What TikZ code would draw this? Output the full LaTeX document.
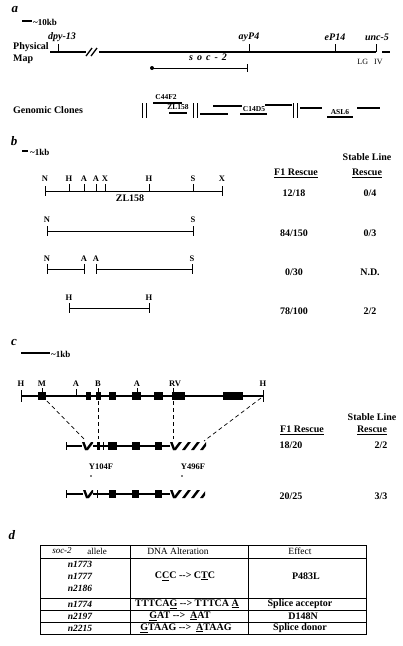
\documentclass[tikz,border=0pt]{standalone}
\usepackage{fontspec}
\setmainfont{Liberation Serif}
\usepackage{tikz}

\tikzset{
  lbl/.style={inner sep=0pt, font=\bfseries\fontsize{10}{11}\selectfont},
  sitelbl/.style={inner sep=0pt, font=\bfseries\fontsize{8.5}{10}\selectfont},
  clonelbl/.style={inner sep=0pt, font=\bfseries\fontsize{7.5}{8}\selectfont},
  genelbl/.style={inner sep=0pt, font=\bfseries\itshape\fontsize{10}{11}\selectfont},
  panel/.style={inner sep=0pt, font=\bfseries\itshape\fontsize{13}{14}\selectfont},
  mapline/.style={line width=1.3pt},
  tickline/.style={line width=1pt},
  exon/.style={fill=black},
  guide/.style={line width=0.7pt, dash pattern=on 4pt off 3pt},
  tabline/.style={line width=1pt},
}

\begin{document}
\begin{tikzpicture}[x=1pt, y=-1pt]
\useasboundingbox (0,0) rectangle (403,646);

% a
\node[panel] (pa) at (15,10) {a};
\draw[mapline] (22,21) -- (32,21);
\node[sitelbl, font=\bfseries\fontsize{9}{10}\selectfont, anchor=west] (bara) at (33,22) {\textasciitilde10kb};
\node[lbl, anchor=west] (phys) at (13,47) {Physical};
\node[lbl, anchor=west] (pmap) at (13,59) {Map};
\draw[mapline] (50,52) -- (86,52) (99,52) -- (376,52) (382,52) -- (390,52);
\draw[mapline] (86,56) -- (92,48) (91,56) -- (97,48);
\foreach \x/\lx/\g [count=\i] in {58/62/dpy-13, 249/249/ayP4, 335/335/eP14, 376/377/unc-5} {
  \draw[tickline] (\x,52) -- (\x,44);
  \node[genelbl] (g\i) at (\lx,37) {\g};
}
\node[inner sep=0pt, font=\fontsize{8}{9}\selectfont] (lg) at (370,62) {LG\hspace{6pt}IV};
\fill (152,68) circle (2);
\draw[tickline] (152,68) -- (247,68);
\draw[tickline] (247,64) -- (247,72);
\node[genelbl] (soc) at (208,57) {s\hspace{4pt}o\hspace{4pt}c\hspace{4pt}-\hspace{4pt}2};

\node[lbl, anchor=west] (gc) at (13,110) {Genomic Clones};
\foreach \x in {142,193,293} \draw[tickline] (\x,103) -- (\x,118) (\x+4,103) -- (\x+4,118);
\draw[mapline] (153,103) -- (182,103) (169,113) -- (187,113) (200,114) -- (228,114)
  (213,106) -- (242,106) (240,114) -- (267,114) (265,105) -- (292,105)
  (300,108) -- (322,108) (327,117) -- (353,117) (357,108) -- (380,108);
\node[clonelbl] (c44) at (166,97) {C44F2};
\node[clonelbl] (zl) at (178,107) {ZL158};
\node[clonelbl] (c14) at (254,109) {C14D5};
\node[clonelbl] (asl) at (340,112) {ASL6};

% b
\node[panel] (pb) at (14,141) {b};
\draw[mapline] (22,151) -- (28,151);
\node[sitelbl, font=\bfseries\fontsize{9}{10}\selectfont, anchor=west] (barb) at (30,152) {\textasciitilde1kb};
\draw[tickline] (45,191) -- (222,191) (45,186) -- (45,196) (222,186) -- (222,196);
\foreach \x in {69,84,96,105,149,193} \draw[tickline] (\x,191) -- (\x,184);
\foreach \x/\s [count=\i] in {45/N,69/H,84/A,96/A,105/X,149/H,193/S,222/X}
  \node[sitelbl] (ba\i) at (\x,179) {\s};
\node[lbl] (zlb) at (130,198) {ZL158};
\draw[tickline] (47,231) -- (193,231) (47,226) -- (47,236) (193,226) -- (193,236);
\node[sitelbl] (bb1) at (47,220) {N};
\node[sitelbl] (bb2) at (193,220) {S};
\draw[tickline] (47,269) -- (84,269) (47,264) -- (47,274) (84,264) -- (84,274);
\draw[tickline] (96,269) -- (192,269) (96,264) -- (96,274) (192,264) -- (192,274);
\foreach \x/\s [count=\i] in {47/N,84/A,96/A,192/S}
  \node[sitelbl] (bc\i) at (\x,259) {\s};
\draw[tickline] (69,308) -- (149,308) (69,303) -- (69,313) (149,303) -- (149,313);
\node[sitelbl] (bd1) at (69,298) {H};
\node[sitelbl] (bd2) at (149,298) {H};
\node[lbl] (f1b) at (296,173) {\underline{F1 Rescue}};
\node[lbl] (slb) at (367,157) {Stable Line};
\node[lbl] (rsb) at (367,173) {\underline{Rescue}};
\foreach \y/\f/\s [count=\i] in {193/12\slash18/0\slash4, 233/84\slash150/0\slash3, 272/0\slash30/N.D., 311/78\slash100/2\slash2} {
  \node[lbl] (fb\i) at (294,\y) {\f};
  \node[lbl] (sb\i) at (370,\y) {\s};
}

% c
\node[panel] (pc) at (14,342) {c};
\draw[mapline] (21,353) -- (50,353);
\node[sitelbl, font=\bfseries\fontsize{9}{10}\selectfont, anchor=west] (barc) at (51,354) {\textasciitilde1kb};
\draw[mapline] (21,396) -- (263,396);
\draw[tickline] (21,390) -- (21,402) (263,390) -- (263,402);
\foreach \a/\b in {38/46,86/91,96/101,109/116,132/141,154/163,172/185,223/243}
  \fill[exon] (\a,392) rectangle (\b,400);
\draw[tickline] (42,392) -- (42,388) (76,396) -- (76,389) (98,392) -- (98,388) (137,392) -- (137,388) (173,392) -- (173,388);
\foreach \x/\s [count=\i] in {21/H,42/M,76/A,98/B,137/A,175/RV,263/H}
  \node[sitelbl] (ca\i) at (\x,384) {\s};
\coordinate (gm) at (47,401);
\coordinate (gb) at (98,401);
\coordinate (grv) at (173,401);
\coordinate (gh) at (261,398);
\coordinate (km) at (85,440);
\coordinate (kb) at (98,439);
\coordinate (krv) at (173,439);
\coordinate (kh) at (204,441);
\draw[guide] (gm) -- (km);
\draw[guide] (gb) -- (kb);
\draw[guide] (grv) -- (krv);
\draw[guide] (gh) -- (kh);

\draw[mapline] (66,446) -- (170,446);
\draw[tickline] (66,442) -- (66,450) (103,442) -- (103,450);
\foreach \a/\b in {97/100,108/117,132/140,155/162}
  \fill[exon] (\a,442) rectangle (\b,450);
\draw[mapline] (66,494) -- (170,494);
\draw[tickline] (66,490) -- (66,498) (97,490) -- (97,498);
\foreach \a/\b in {109/116,132/139,155/162}
  \fill[exon] (\a,490) rectangle (\b,498);
\foreach \a/\b/\y in {82/93/446, 170/206/446, 83/93/494, 170/205/494} {
  \begin{scope}
    \clip (\a,\y-4) rectangle (\b,\y+4);
    \fill[white] (\a,\y-4) rectangle (\b,\y+4);
    \fill (\a,\y-4) -- (\a+2.5,\y-4) -- (\a+5.5,\y+4) -- (\a+3,\y+4) -- cycle;
    \foreach \s in {3,12,...,39}
      \fill (\a+\s,\y+4) -- (\a+\s+3,\y+4) -- (\a+\s+9,\y-4) -- (\a+\s+6,\y-4) -- cycle;
  \end{scope}
}
\node[sitelbl] (y104) at (101,467) {Y104F};
\fill (91,476) circle (0.9);
\node[sitelbl] (y496) at (193,467) {Y496F};
\fill (182,476) circle (0.9);
\node[lbl] (f1c) at (302,430) {\underline{F1 Rescue}};
\node[lbl] (slc) at (372,417) {Stable Line};
\node[lbl] (rsc) at (372,430) {\underline{Rescue}};
\node[lbl] (fc1) at (291,445) {18/20};
\node[lbl] (sc1) at (381,445) {2/2};
\node[lbl] (fc2) at (291,496) {20/25};
\node[lbl] (sc2) at (381,496) {3/3};

% d
\node[panel] (pd) at (12,535) {d};
\draw[tabline] (40,545) rectangle (366,634);
\draw[tabline] (130,545) -- (130,634) (248,545) -- (248,634);
\draw[tabline] (40,558) -- (366,558) (40,598) -- (366,598) (40,610) -- (366,610) (40,622) -- (366,622);
\node[inner sep=0pt, font=\itshape\fontsize{9}{10}\selectfont] (th1) at (62,551) {soc-2};
\node[inner sep=0pt, font=\fontsize{9}{10}\selectfont] (th2) at (97,551) {allele};
\node[inner sep=0pt, font=\fontsize{9.5}{10}\selectfont] (th3) at (178,551) {DNA Alteration};
\node[inner sep=0pt, font=\fontsize{9.5}{10}\selectfont] (th4) at (300,551) {Effect};
\foreach \y/\n [count=\i] in {564/n1773, 576/n1777, 588/n2186, 604/n1774, 616/n2197, 628/n2215}
  \node[inner sep=0pt, font=\bfseries\itshape\fontsize{9.5}{10}\selectfont] (al\i) at (80,\y) {\n};
\node[lbl] (dn1) at (185,576) {C\underline{C}C {-}{-}> C\underline{T}C};
\node[lbl] (dn2) at (187,604) {TTTCA\underline{G} {-}{-}> TTTCA \underline{A}};
\node[lbl] (dn3) at (180,616) {\underline{G}AT {-}{-}>\ \ \underline{A}AT};
\node[lbl] (dn4) at (186,628) {\underline{G}TAAG {-}{-}>\ \ \underline{A}TAAG};
\node[lbl] (ef1) at (306,576) {P483L};
\node[lbl] (ef2) at (300,604) {Splice acceptor};
\node[lbl] (ef3) at (303,616) {D148N};
\node[lbl] (ef4) at (300,628) {Splice donor};
\end{tikzpicture}
\end{document}
